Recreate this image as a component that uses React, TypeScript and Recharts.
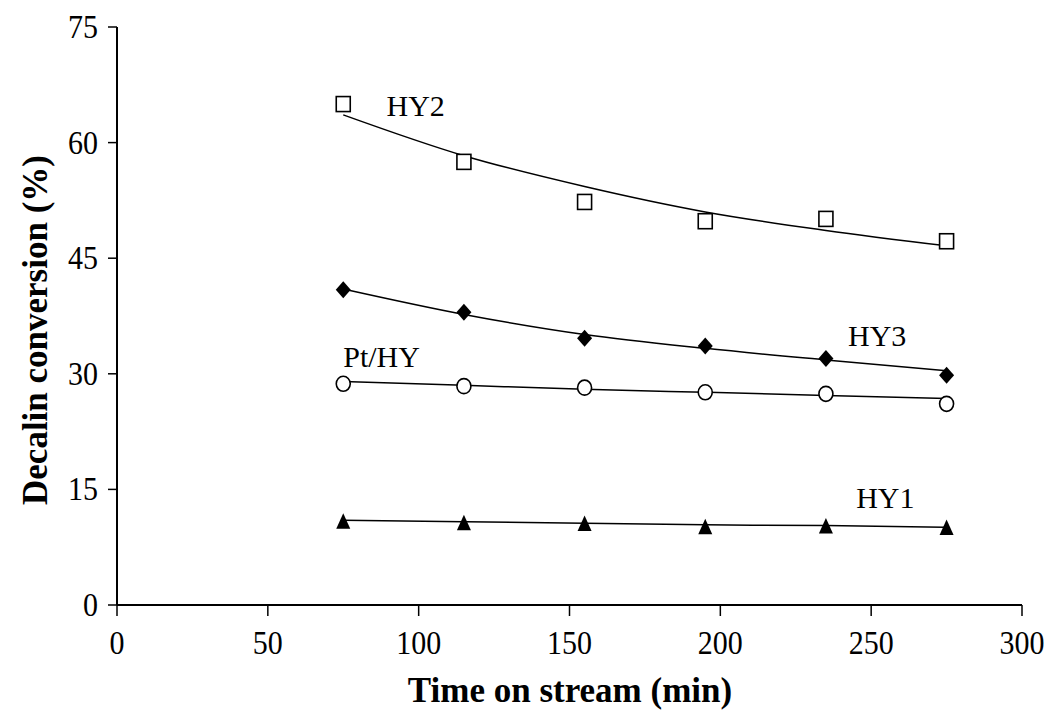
import React from 'react';
import {
  ComposedChart,
  Scatter,
  Line,
  XAxis,
  YAxis,
  ReferenceDot,
} from 'recharts';

// measured points (time on stream, min)
const times = [75, 115, 155, 195, 235, 275];
const hy2 = [65.0, 57.5, 52.3, 49.8, 50.1, 47.2];
const hy3 = [40.9, 38.0, 34.6, 33.6, 32.0, 29.8];
const ptHy = [28.7, 28.4, 28.2, 27.6, 27.4, 26.1];
const hy1 = [10.8, 10.6, 10.5, 10.1, 10.2, 10.0];

// trend lines
const trendTimes = [75, 115, 155, 195, 235, 275];
const hy2Trend = [63.6, 58.3, 54.3, 51.0, 48.6, 46.6];
const hy3Trend = [41.0, 37.7, 35.1, 33.3, 31.8, 30.4];
const ptHyTrend = [29.0, 28.5, 28.0, 27.6, 27.2, 26.8];
const hy1Trend = [11.0, 10.8, 10.6, 10.4, 10.3, 10.1];

const xTicks = [0, 50, 100, 150, 200, 250, 300];
const yTicks = [0, 15, 30, 45, 60, 75];

const seriesLabels = [
  { text: 'HY2', x: 99, y: 64.8 },
  { text: 'HY3', x: 252, y: 35 },
  { text: 'Pt/HY', x: 87.7, y: 32.2 },
  { text: 'HY1', x: 254.7, y: 14 },
];

const toPoints = (xs: number[], ys: number[]) => xs.map((x, i) => ({ x, y: ys[i] }));

const FONT = "'Liberation Serif', 'Times New Roman', Times, serif";

const Square = (p: any) => (
  <rect x={p.cx - 7} y={p.cy - 7.5} width={14} height={15} fill="#fff" stroke="#000" strokeWidth={1.6} />
);
const Diamond = (p: any) => (
  <path d={`M${p.cx},${p.cy - 8.5} L${p.cx + 7.5},${p.cy} L${p.cx},${p.cy + 8.5} L${p.cx - 7.5},${p.cy} Z`} fill="#000" />
);
const Circle = (p: any) => (
  <ellipse cx={p.cx} cy={p.cy} rx={7} ry={7.5} fill="#fff" stroke="#000" strokeWidth={1.6} />
);
const Triangle = (p: any) => (
  <path d={`M${p.cx},${p.cy - 8.5} L${p.cx + 7},${p.cy + 7} L${p.cx - 7},${p.cy + 7} Z`} fill="#000" />
);

const XTick = (props: any) => {
  const { x, y, payload } = props;
  return (
    <g transform={`translate(${x}, ${y + 36}) scale(1, 1.12)`}>
      <text x={0} y={0} textAnchor="middle" style={{ fontFamily: FONT }} fontSize={30} fill="#000">
        {payload.value}
      </text>
    </g>
  );
};

const YTick = (props: any) => {
  const { x, y, payload } = props;
  return (
    <g transform={`translate(${x - 8}, ${y + 11}) scale(1, 1.12)`}>
      <text x={0} y={0} textAnchor="end" style={{ fontFamily: FONT }} fontSize={30} fill="#000">
        {payload.value}
      </text>
    </g>
  );
};

const YTitle = () => (
  <text
    x={35}
    y={330}
    transform="rotate(-90, 35, 330)"
    textAnchor="middle"
    dominantBaseline="central"
    style={{ fontFamily: FONT }}
    fontWeight="bold"
    fontSize={35}
    fill="#000"
  >
    Decalin conversion (%)
  </text>
);

const XTitle = () => (
  <text x={570} y={702} textAnchor="middle" style={{ fontFamily: FONT }} fontWeight="bold" fontSize={35} fill="#000">
    Time on stream (min)
  </text>
);

export default function App() {
  return (
    <div style={{ position: 'absolute', left: 0, top: 0, width: 1049, height: 717, background: '#fff' }}>
      <ComposedChart width={1049} height={717} margin={{ top: 27, right: 27, left: 0, bottom: 0 }}>
        <XAxis
          type="number"
          dataKey="x"
          domain={[0, 300]}
          ticks={xTicks}
          interval={0}
          height={112}
          tickSize={11}
          tick={<XTick />}
          axisLine={{ stroke: '#000', strokeWidth: 2 }}
          tickLine={{ stroke: '#000', strokeWidth: 1.5 }}
          label={<XTitle />}
        />
        <YAxis
          type="number"
          dataKey="y"
          domain={[0, 75]}
          ticks={yTicks}
          interval={0}
          width={117}
          tickSize={9}
          tick={<YTick />}
          axisLine={{ stroke: '#000', strokeWidth: 2 }}
          tickLine={{ stroke: '#000', strokeWidth: 1.5 }}
          label={<YTitle />}
        />
        <Line data={toPoints(trendTimes, hy2Trend)} dataKey="y" type="monotone" stroke="#000" strokeWidth={1.5} dot={false} activeDot={false} isAnimationActive={false} />
        <Line data={toPoints(trendTimes, hy3Trend)} dataKey="y" type="monotone" stroke="#000" strokeWidth={1.5} dot={false} activeDot={false} isAnimationActive={false} />
        <Line data={toPoints(trendTimes, ptHyTrend)} dataKey="y" type="monotone" stroke="#000" strokeWidth={1.5} dot={false} activeDot={false} isAnimationActive={false} />
        <Line data={toPoints(trendTimes, hy1Trend)} dataKey="y" type="monotone" stroke="#000" strokeWidth={1.5} dot={false} activeDot={false} isAnimationActive={false} />
        <Scatter data={toPoints(times, hy2)} shape={<Square />} isAnimationActive={false} />
        <Scatter data={toPoints(times, hy3)} shape={<Diamond />} isAnimationActive={false} />
        <Scatter data={toPoints(times, ptHy)} shape={<Circle />} isAnimationActive={false} />
        <Scatter data={toPoints(times, hy1)} shape={<Triangle />} isAnimationActive={false} />
        {seriesLabels.map((l) => (
          <ReferenceDot
            key={l.text}
            x={l.x}
            y={l.y}
            r={0}
            fill="none"
            stroke="none"
            label={{ value: l.text, position: 'center', style: { fill: '#000', fontSize: 30, fontFamily: FONT } }}
          />
        ))}
      </ComposedChart>
    </div>
  );
}
